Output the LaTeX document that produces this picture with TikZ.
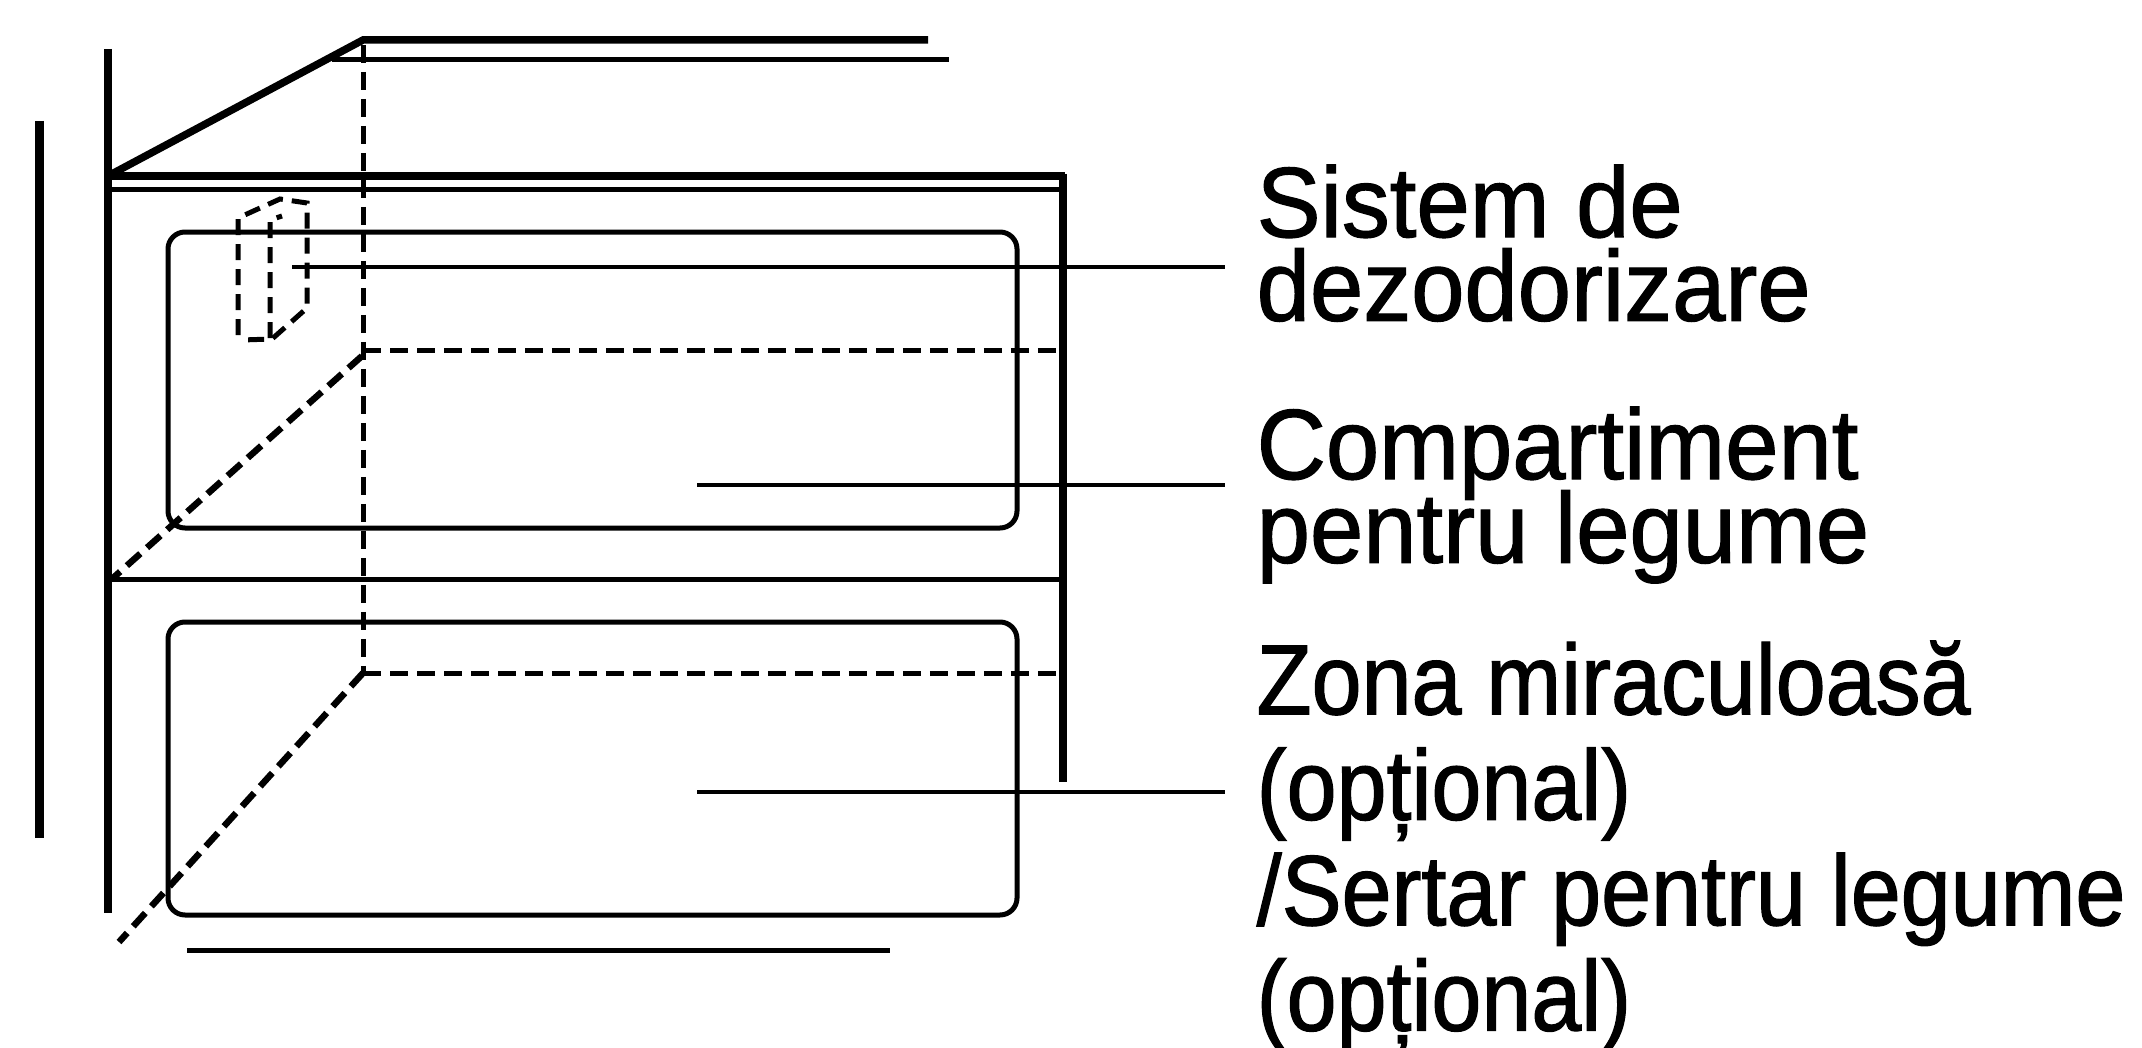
\documentclass[tikz,border=0pt]{standalone}
\usepackage{fontspec}
\setmainfont{Liberation Sans}
\newfontfamily\tagfont[FakeStretch=0.96,FakeBold=1.2]{Liberation Sans}
\newfontfamily\tagwidefont[FakeStretch=0.90,FakeBold=1.2]{Liberation Sans}
\usetikzlibrary{positioning, calc}

\begin{document}
\begin{tikzpicture}[
        y=-1cm, % y runs downwards
        heavy/.style={line width=0.085cm},
        frame/.style={line width=0.075cm},
        light/.style={line width=0.05cm},
        hidden/.style={line width=0.05cm, dash pattern=on 0.18cm off 0.09cm},
        slant/.style={hidden, line width=0.065cm},
        boxedge/.style={line width=0.05cm, dash pattern=on 0.16cm off 0.09cm},
        drawer/.style={line width=0.05cm, rounded corners=0.17cm},
        leader/.style={line width=0.045cm},
        tag/.style={anchor=north west, align=left, inner ysep=0pt, inner xsep=0.31cm,
            font=\tagfont\fontsize{28.4}{23.8}\selectfont},
        tagwide/.style={tag, font=\tagwidefont\fontsize{28.4}{30}\selectfont}
    ]
    \useasboundingbox (0,0) rectangle (21.42,10.48);
    \lineskiplimit=-1cm\relax

    % ==========================================
    % Cabinet
    % ==========================================
    \draw[heavy] (0.395,1.21) -- (0.395,8.38);
    \draw[heavy] (1.08,0.49) -- (1.08,9.13);
    \draw[frame] (1.08,1.76) -- (3.63,0.40) -- (9.28,0.40);
    \draw[light] (3.32,0.60) -- (9.49,0.60);
    \draw[frame] (1.08,1.76) -- (10.65,1.76);
    \draw[light] (1.08,1.90) -- (10.63,1.90);
    \draw[frame] (10.63,1.74) -- (10.63,7.82);
    \draw[light] (1.08,5.79) -- (10.63,5.79);
    \draw[light] (1.87,9.50) -- (8.90,9.50);

    % ==========================================
    % Hidden edges
    % ==========================================
    \draw[hidden] (3.63,0.45) -- (3.63,6.73);
    \draw[hidden] (3.63,3.50) -- (10.63,3.50);
    \draw[hidden] (3.63,6.73) -- (10.63,6.73);
    \draw[slant] (3.62,3.56) -- (1.13,5.78);
    \draw[slant] (3.63,6.73) -- (1.19,9.42);

    % ==========================================
    % Drawers
    % ==========================================
    \draw[drawer] (1.68,2.32) rectangle (10.17,5.28);
    \draw[drawer] (1.68,6.22) rectangle (10.17,9.15);

    % Small box
    \draw[boxedge] (2.38,3.35) -- (2.38,2.18) -- (2.80,1.99) -- (3.07,2.03) -- (3.07,3.08) -- (2.72,3.39) -- (2.42,3.40);
    \draw[boxedge] (2.70,3.38) -- (2.70,2.20) -- (2.82,2.16);

    % ==========================================
    % Labels
    % ==========================================
    \node[tag] (odour) at (12.25,1.64) {Sistem de\\dezodorizare};
    \node[tag] (veg) at (12.25,4.06) {Compartiment\\pentru legume};
    \node[tagwide] (miracle) at (12.25,6.40) {Zona miraculoasă\\(opțional)\\/Sertar pentru legume\\(opțional)};

    % ==========================================
    % Leaders
    % ==========================================
    \coordinate (odourEnd) at (2.92,2.67);
    \coordinate (vegEnd) at (6.97,4.85);
    \coordinate (miracleEnd) at (6.97,7.92);
    \draw[leader] (odourEnd) -- (odourEnd -| odour.west);
    \draw[leader] (vegEnd) -- (vegEnd -| veg.west);
    \draw[leader] (miracleEnd) -- (miracleEnd -| miracle.west);

    \end{tikzpicture}
\end{document}
